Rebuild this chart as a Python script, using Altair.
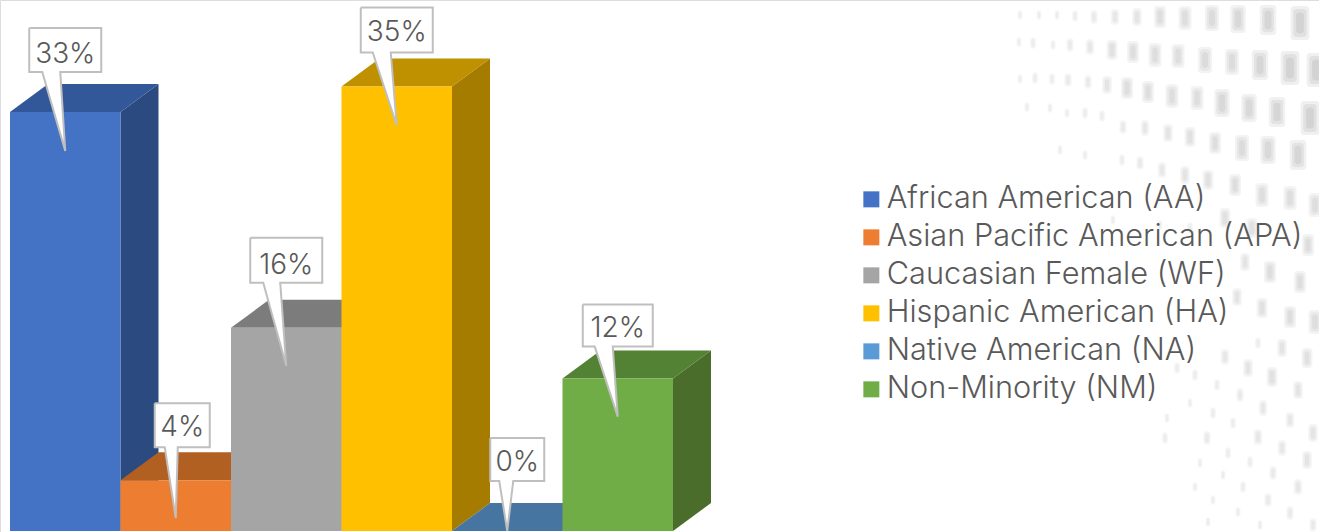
import altair as alt
import pandas as pd

# Share of each group, in percent
groups = [
    "African American (AA)",
    "Asian Pacific American (APA)",
    "Caucasian Female (WF)",
    "Hispanic American (HA)",
    "Native American (NA)",
    "Non-Minority (NM)",
]
shares = [33, 4, 16, 35, 0, 12]
share_labels = ["33%", "4%", "16%", "35%", "0%", "12%"]

# Face colours of the extruded columns
front_colors = ["#4472C4", "#ED7D31", "#A5A5A5", "#FFC000", "#5B9BD5", "#70AD47"]
top_colors = ["#335899", "#B25F22", "#7C7C7C", "#BF9000", "#4675A1", "#548235"]
side_colors = ["#2B4A80", "#8F4C1A", "#636363", "#A67C00", "#37597A", "#4A6D2C"]

# Callout box extents and pointer, as pixel offsets from the column centre and top
box_left = [-36, -21, -36, -36, -17, -35]
box_right = [36, 34, 36, 36, 37, 35]
box_top = [84, 77, 90, 79, 93, 74]
box_bottom = [40, 33, 45, 34, 50, 32]
stem_left = [-23, -11, -23, -24, -8, -23]
stem_right = [-5, 2, -6, -6, 6, -5]
tip_drop = [39, 38, 38, 39, 0, 38]
label_drop = [5, 3, 6, 3, 3, 3]

# Halftone backdrop: one list per row of dots
dot_rows = [
    ([1020, 1039, 1057, 1075, 1094, 1115, 1137, 1160, 1185, 1212, 1238, 1268, 1300],
     [15, 15, 15, 16, 17, 17, 17, 17, 18, 18, 19, 20, 23],
     [10, 10, 10, 12, 14, 16, 18, 22, 24, 26, 28, 30, 34]),
    ([1019, 1033, 1053, 1070, 1090, 1112, 1133, 1155, 1178, 1205, 1232, 1260, 1290, 1316],
     [42, 43, 45, 45, 47, 50, 52, 55, 56, 60, 62, 65, 68, 70],
     [10, 12, 10, 14, 16, 20, 22, 24, 24, 26, 26, 30, 34, 34]),
    ([1020, 1035, 1052, 1068, 1088, 1107, 1127, 1148, 1172, 1197, 1222, 1249, 1277, 1310],
     [79, 78, 79, 80, 82, 85, 88, 92, 96, 98, 103, 108, 112, 118],
     [10, 12, 12, 14, 14, 18, 22, 22, 24, 24, 28, 28, 30, 34]),
    ([1027, 1050, 1067, 1085, 1102, 1123, 1145, 1168, 1190, 1215, 1242, 1268, 1298],
     [107, 108, 113, 113, 116, 127, 128, 133, 137, 143, 148, 150, 155],
     [10, 10, 10, 12, 12, 14, 16, 18, 20, 22, 26, 28, 30]),
    ([1060, 1085, 1122, 1140, 1162, 1185, 1208, 1235, 1262, 1290, 1315],
     [150, 155, 160, 163, 170, 175, 180, 185, 195, 198, 205],
     [10, 10, 12, 14, 16, 18, 20, 22, 24, 24, 24]),
    ([1113, 1160, 1190, 1225, 1252, 1308],
     [220, 225, 228, 218, 228, 245],
     [10, 10, 12, 20, 20, 22]),
    ([1245, 1270, 1300, 1237, 1262, 1290, 1315],
     [262, 272, 282, 297, 308, 317, 322],
     [18, 22, 22, 18, 20, 22, 24]),
    ([1258, 1282, 1307, 1177, 1225, 1248, 1272, 1298, 1195, 1217, 1240, 1263, 1290, 1313],
     [343, 348, 358, 368, 357, 368, 377, 390, 375, 385, 395, 408, 420, 433],
     [12, 18, 20, 12, 16, 18, 20, 18, 12, 12, 14, 16, 16, 18]),
    ([1167, 1190, 1213, 1233, 1258, 1282, 1307, 1165, 1207, 1228, 1250, 1273, 1298],
     [418, 403, 413, 423, 437, 448, 460, 438, 438, 453, 462, 473, 487],
     [10, 10, 12, 12, 16, 16, 18, 12, 14, 12, 12, 14, 16]),
    ([1200, 1223, 1243, 1268, 1290, 1313, 1195, 1213, 1238, 1260, 1208],
     [463, 475, 487, 500, 513, 525, 487, 500, 512, 525, 522],
     [10, 10, 12, 14, 14, 14, 10, 10, 10, 10, 10]),
]

W, H = 1319, 532
BASE_PX = 531.0      # pixel row of the zero line
PX_PER_PCT = 12.7    # vertical scale
LEFT = 10.0          # left edge of the first column
STEP = 110.5         # column width
DX, DY = 38.0, 28.0  # extrusion offset

font = "Inter"
ink = "#595959"


def pct(px_from_base):
    """Convert a pixel distance above the zero line into scale units."""
    return px_from_base / PX_PER_PCT


x_scale = alt.Scale(domain=[0, W], range=[0, W], nice=False, zero=False)
y_scale = alt.Scale(
    domain=[pct(BASE_PX - H), pct(BASE_PX)], range=[H, 0], nice=False, zero=False
)
X = lambda f: alt.X(f, type="quantitative", scale=x_scale, axis=None)
Y = lambda f: alt.Y(f, type="quantitative", scale=y_scale, axis=None)

fronts, sides, tops, callouts, labels = [], [], [], [], []
for i, (g, v) in enumerate(zip(groups, shares)):
    x0, x1 = LEFT + i * STEP, LEFT + (i + 1) * STEP
    dy = pct(DY)
    fronts.append({"group": g, "x0": x0, "x1": x1, "v": v})
    sides += [
        {"id": g, "c": side_colors[i], "x": x1, "hi": v, "lo": 0},
        {"id": g, "c": side_colors[i], "x": x1 + DX, "hi": v + dy, "lo": dy},
    ]
    tops += [
        {"id": g, "c": top_colors[i], "x": x0, "hi": v, "lo": v},
        {"id": g, "c": top_colors[i], "x": x0 + DX, "hi": v + dy, "lo": v},
        {"id": g, "c": top_colors[i], "x": x1, "hi": v + dy, "lo": v},
        {"id": g, "c": top_colors[i], "x": x1 + DX, "hi": v + dy, "lo": v + dy},
    ]
    cx = (x0 + x1) / 2
    box_lo, box_hi = v + pct(box_bottom[i]), v + pct(box_top[i])
    tip_y = v - pct(tip_drop[i])
    outline = [
        (cx + box_left[i], box_hi),
        (cx + box_right[i], box_hi),
        (cx + box_right[i], box_lo),
        (cx + stem_right[i], box_lo),
        (cx, tip_y),
        (cx + stem_left[i], box_lo),
        (cx + box_left[i], box_lo),
        (cx + box_left[i], box_hi),
    ]
    callouts += [
        {"id": g, "k": k, "x": px, "y": py} for k, (px, py) in enumerate(outline)
    ]
    labels.append(
        {
            "x": cx + (box_left[i] + box_right[i]) / 2,
            "y": (box_lo + box_hi) / 2 - pct(label_drop[i]),
            "t": share_labels[i],
        }
    )

# Each dot is painted as nested faint rectangles so its edge fades out
dots = []
for xs, ys, hs in dot_rows:
    for px, py, h in zip(xs, ys, hs):
        for scale_w, scale_h in [(1.0, 1.0), (0.72, 0.82), (0.42, 0.62)]:
            w = h * 0.55 * scale_w
            hh = h * scale_h
            dots.append(
                {
                    "x0": px - w / 2,
                    "x1": px + w / 2,
                    "y0": pct(BASE_PX - py - hh / 2),
                    "y1": pct(BASE_PX - py + hh / 2),
                    "a": 0.006 + h * 0.0016,
                }
            )

backdrop = (
    alt.Chart(pd.DataFrame(dots))
    .mark_rect(cornerRadius=3, color="#000000")
    .encode(
        x=X("x0"), x2="x1", y=Y("y0"), y2="y1",
        opacity=alt.Opacity("a:Q", scale=None),
    )
)
side_layer = (
    alt.Chart(pd.DataFrame(sides))
    .mark_area()
    .encode(x=X("x"), y=Y("hi"), y2="lo", fill=alt.Fill("c:N", scale=None), detail="id:N")
)
top_layer = (
    alt.Chart(pd.DataFrame(tops))
    .mark_area()
    .encode(x=X("x"), y=Y("hi"), y2="lo", fill=alt.Fill("c:N", scale=None), detail="id:N")
)
front_layer = (
    alt.Chart(pd.DataFrame(fronts))
    .mark_rect()
    .encode(
        x=X("x0"),
        x2="x1",
        y=Y("v"),
        y2=alt.Y2(datum=0),
        color=alt.Color(
            "group:N",
            scale=alt.Scale(domain=groups, range=front_colors),
            legend=alt.Legend(
                title=None,
                orient="none",
                legendX=856,
                legendY=184,
                symbolType="square",
                symbolSize=256,
                symbolStrokeWidth=0,
                labelFont=font,
                labelFontSize=30.7,
                labelFontWeight=300,
                labelColor=ink,
                labelLimit=460,
                labelOffset=0,
                rowPadding=6,
            ),
        ),
    )
)
callout_layer = (
    alt.Chart(pd.DataFrame(callouts))
    .mark_line(fill="#FFFFFF", stroke="#BFBFBF", strokeWidth=2, strokeJoin="miter")
    .encode(x=X("x"), y=Y("y"), order="k:Q", detail="id:N")
)
label_layer = (
    alt.Chart(pd.DataFrame(labels))
    .mark_text(font=font, fontSize=28, fontWeight=300, color=ink, baseline="middle", align="center")
    .encode(x=X("x"), y=Y("y"), text="t:N")
)

chart = (
    alt.layer(backdrop, side_layer, top_layer, front_layer, callout_layer, label_layer)
    .properties(width=W, height=H, padding=0, autosize=alt.AutoSizeParams(type="none"))
    .configure_view(stroke=None)
    .configure(background="#FFFFFF")
)

chart.save("out.html", embed_options={"renderer": "svg", "actions": False})
